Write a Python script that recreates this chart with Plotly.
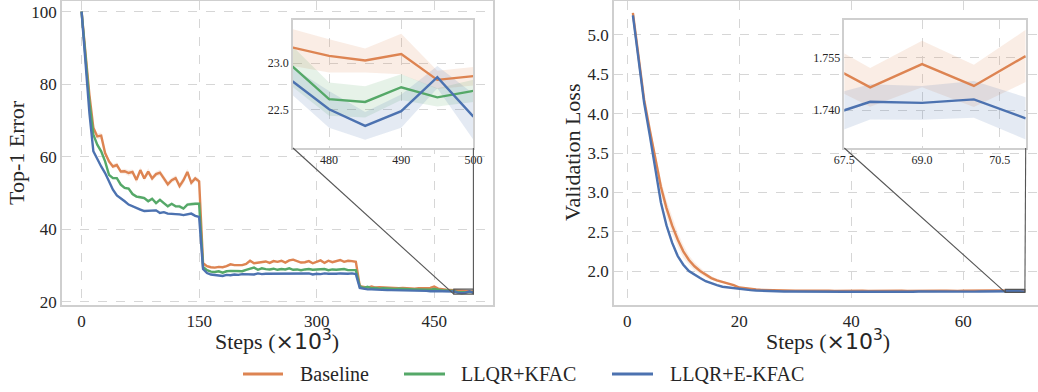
import plotly.graph_objects as go

W, H = 1038, 392

# ---------------- data: left panel (Top-1 error) ----------------
steps_left = list(range(0, 505, 5))
baseline_err = [100, 88, 77, 68, 65.6, 65.8, 61.0, 58.7, 57.3, 57.7, 55.9, 56.0, 55.5, 55.8, 53.6, 56.3,
                54.0, 55.9, 54.0, 55.2, 55.6, 54.0, 52.4, 53.5, 54.1, 51.9, 53.5, 55.8, 52.8, 54.0, 53.2,
                30.6, 29.8, 29.5, 29.4, 29.6, 29.5, 29.8, 30.3, 30.1, 30.0, 30.1, 30.4, 31.3, 30.6, 30.8,
                30.9, 31.1, 30.7, 31.2, 31.0, 31.3, 30.8, 31.4, 31.6, 31.2, 30.8, 30.9, 31.2, 30.6, 31.1,
                31.4, 30.7, 31.3, 30.9, 31.2, 31.5, 31.0, 31.3, 31.2, 31.0,
                24.3, 24.0, 23.9, 24.2, 23.9, 24.0, 23.9, 23.8, 23.9, 23.8, 23.7, 23.8, 23.7, 23.8, 23.6,
                23.7, 23.6, 23.7, 23.8, 24.2, 23.6, 23.4, 23.3, 23.25,
                23.17, 23.08, 23.03, 23.10, 22.82, 22.86]
kfac_err = [100, 87, 75, 66.1, 63.3, 61.5, 58.7, 55.0, 54.1, 54.1, 52.3, 51.4, 51.2, 49.7, 49.0, 48.8,
            48.6, 47.7, 48.4, 47.2, 48.1, 47.2, 46.3, 47.0, 46.3, 46.3, 45.7, 46.8, 47.0, 47.0, 47.0,
            29.6, 28.7, 28.3, 28.2, 28.4, 28.0, 28.4, 28.5, 28.5, 28.6, 28.4, 28.8, 29.1, 29.4, 28.8,
            29.2, 29.0, 28.9, 29.1, 28.8, 29.0, 28.9, 29.2, 28.8, 28.9, 28.7, 28.9, 29.0, 28.8, 28.9,
            28.9, 29.0, 28.7, 28.9, 28.8, 28.8, 29.0, 28.7, 28.8, 28.7,
            24.2, 23.8, 24.1, 23.7, 23.8, 23.6, 23.7, 23.6, 23.6, 23.5, 23.6, 23.5, 23.4, 23.5, 23.4,
            23.4, 23.3, 23.4, 23.3, 23.5, 23.2, 23.1, 23.1, 23.0,
            22.96, 22.61, 22.58, 22.74, 22.63, 22.70]
ekfac_err = [100, 86, 72, 61.5, 59.2, 57.3, 55.5, 53.2, 50.9, 49.3, 48.6, 47.7, 46.8, 46.3, 45.7, 45.4,
             45.0, 45.0, 45.0, 45.2, 44.5, 44.7, 44.3, 44.3, 44.1, 44.1, 43.9, 44.1, 44.3, 43.7, 43.4,
             29.0, 27.9, 27.5, 27.4, 27.4, 27.1, 27.4, 27.3, 27.5, 27.4, 27.6, 27.6, 27.7, 27.5, 27.8,
             27.6, 27.7, 27.7, 27.6, 27.8, 27.7, 27.8, 27.6, 27.7, 27.8, 27.6, 27.7, 27.8, 27.5, 27.7,
             27.6, 27.8, 27.7, 27.6, 27.7, 27.8, 27.7, 27.7, 27.8, 27.6,
             23.8, 23.5, 23.4, 23.4, 23.3, 23.3, 23.3, 23.2, 23.2, 23.2, 23.1, 23.1, 23.1, 23.0, 23.1,
             23.0, 23.0, 23.0, 22.9, 23.0, 22.9, 22.9, 22.85, 22.85,
             22.80, 22.50, 22.32, 22.48, 22.85, 22.42]
baseline_err_std = [0.0, 0.6, 0.7, 0.8, 0.8, 0.9, 0.8, 0.7, 0.6, 0.7, 0.6, 0.7, 0.8, 0.7, 0.9, 0.8,
                    0.7, 0.9, 0.8, 0.7, 0.8, 0.9, 0.8, 0.7, 0.8, 0.9, 1.0, 0.9, 0.8, 0.7, 0.8,
                    0.4, 0.35, 0.3, 0.3, 0.35, 0.3, 0.3, 0.35, 0.3, 0.3, 0.35, 0.3, 0.4, 0.3, 0.3,
                    0.35, 0.3, 0.3, 0.35, 0.3, 0.3, 0.35, 0.3, 0.4, 0.3, 0.3, 0.35, 0.3, 0.3, 0.35,
                    0.3, 0.3, 0.35, 0.3, 0.3, 0.35, 0.3, 0.3, 0.35, 0.3,
                    0.25, 0.2, 0.2, 0.25, 0.2, 0.2, 0.2, 0.2, 0.2, 0.2, 0.2, 0.2, 0.2, 0.2, 0.2,
                    0.2, 0.2, 0.2, 0.2, 0.25, 0.2, 0.2, 0.2, 0.2,
                    0.20, 0.18, 0.13, 0.22, 0.10, 0.10]
kfac_err_std = [0.0, 0.5, 0.5, 0.5, 0.4, 0.5, 0.4, 0.5, 0.4, 0.4, 0.5, 0.4, 0.4, 0.5, 0.4, 0.4,
                0.5, 0.4, 0.4, 0.5, 0.4, 0.4, 0.5, 0.4, 0.4, 0.5, 0.4, 0.4, 0.5, 0.4, 0.4,
                0.3, 0.25, 0.25, 0.25, 0.25, 0.25, 0.25, 0.25, 0.25, 0.25, 0.25, 0.25, 0.25, 0.25, 0.25,
                0.25, 0.25, 0.25, 0.25, 0.25, 0.25, 0.25, 0.25, 0.25, 0.25, 0.25, 0.25, 0.25, 0.25, 0.25,
                0.25, 0.25, 0.25, 0.25, 0.25, 0.25, 0.25, 0.25, 0.25, 0.25,
                0.2, 0.15, 0.15, 0.15, 0.15, 0.15, 0.15, 0.15, 0.15, 0.15, 0.15, 0.15, 0.15, 0.15, 0.15,
                0.15, 0.15, 0.15, 0.15, 0.15, 0.15, 0.15, 0.15, 0.15,
                0.22, 0.18, 0.17, 0.14, 0.10, 0.12]
ekfac_err_std = [0.0, 0.4, 0.4, 0.3, 0.3, 0.4, 0.3, 0.3, 0.4, 0.3, 0.3, 0.4, 0.3, 0.3, 0.3, 0.4,
                 0.3, 0.3, 0.3, 0.4, 0.3, 0.3, 0.3, 0.4, 0.3, 0.3, 0.3, 0.4, 0.3, 0.3, 0.3,
                 0.25, 0.2, 0.2, 0.2, 0.2, 0.2, 0.2, 0.2, 0.2, 0.2, 0.2, 0.2, 0.2, 0.2, 0.2,
                 0.2, 0.2, 0.2, 0.2, 0.2, 0.2, 0.2, 0.2, 0.2, 0.2, 0.2, 0.2, 0.2, 0.2, 0.2,
                 0.2, 0.2, 0.2, 0.2, 0.2, 0.2, 0.2, 0.2, 0.2, 0.2,
                 0.2, 0.15, 0.15, 0.15, 0.15, 0.15, 0.15, 0.15, 0.15, 0.15, 0.15, 0.15, 0.15, 0.15, 0.15,
                 0.15, 0.15, 0.15, 0.15, 0.15, 0.15, 0.15, 0.15, 0.15,
                 0.15, 0.20, 0.15, 0.18, 0.12, 0.25]

# ---------------- data: right panel (validation loss) ----------------
steps_right = list(range(1, 72))
baseline_loss = [5.28, 4.73, 4.18, 3.80, 3.43, 3.07, 2.80, 2.58, 2.40, 2.25, 2.14, 2.06, 2.00, 1.95, 1.91,
                 1.88, 1.86, 1.84, 1.82, 1.79, 1.78, 1.772, 1.765, 1.760, 1.757, 1.755, 1.753, 1.752,
                 1.751, 1.750, 1.749, 1.750, 1.752, 1.748, 1.747, 1.749, 1.746, 1.748, 1.747, 1.748,
                 1.746, 1.749, 1.745, 1.747, 1.748, 1.746, 1.748, 1.747, 1.749, 1.746, 1.748, 1.750,
                 1.747, 1.749, 1.748, 1.750, 1.749, 1.753, 1.748, 1.750, 1.749, 1.751, 1.750, 1.752,
                 1.751, 1.753, 1.7543, 1.7465, 1.7531, 1.7469, 1.7554]
ekfac_loss = [5.25, 4.70, 4.14, 3.73, 3.28, 2.87, 2.58, 2.36, 2.19, 2.08, 2.00, 1.95, 1.91, 1.87, 1.84,
              1.82, 1.80, 1.79, 1.78, 1.77, 1.763, 1.757, 1.752, 1.748, 1.745, 1.743, 1.741, 1.740,
              1.739, 1.738, 1.739, 1.738, 1.737, 1.738, 1.736, 1.737, 1.738, 1.737, 1.736, 1.738,
              1.737, 1.736, 1.735, 1.737, 1.738, 1.737, 1.736, 1.738, 1.737, 1.738, 1.737, 1.739,
              1.738, 1.737, 1.739, 1.738, 1.740, 1.739, 1.738, 1.740, 1.739, 1.738, 1.740, 1.739,
              1.740, 1.739, 1.7376, 1.7424, 1.7421, 1.7431, 1.7377]
baseline_loss_std = [0.02, 0.03, 0.04, 0.05,
                     0.07, 0.09, 0.10, 0.10, 0.09, 0.08, 0.06, 0.05,
                     0.04, 0.03, 0.025, 0.02, 0.015, 0.012, 0.010, 0.010,
                     0.008, 0.008, 0.007, 0.007, 0.007, 0.006, 0.006, 0.006, 0.006, 0.006, 0.006, 0.006,
                     0.006, 0.006, 0.006, 0.006, 0.006, 0.006, 0.006, 0.006, 0.006, 0.006, 0.006, 0.006,
                     0.006, 0.006, 0.006, 0.006, 0.006, 0.006, 0.006, 0.006, 0.006, 0.006, 0.006, 0.006,
                     0.006, 0.006, 0.006, 0.006, 0.006, 0.006, 0.006, 0.006, 0.006, 0.006,
                     0.0060, 0.0055, 0.0066, 0.0060, 0.0074]
ekfac_loss_std = [0.02, 0.02, 0.02, 0.02,
                  0.03, 0.035, 0.04, 0.035, 0.03, 0.025, 0.02, 0.018,
                  0.015, 0.012, 0.01, 0.009, 0.008, 0.007, 0.007, 0.006,
                  0.006, 0.006, 0.006, 0.006, 0.006, 0.006, 0.006, 0.006, 0.006, 0.006, 0.006, 0.006,
                  0.006, 0.006, 0.006, 0.006, 0.006, 0.006, 0.006, 0.006, 0.006, 0.006, 0.006, 0.006,
                  0.006, 0.006, 0.006, 0.006, 0.006, 0.006, 0.006, 0.006, 0.006, 0.006, 0.006, 0.006,
                  0.006, 0.006, 0.006, 0.006, 0.006, 0.006, 0.006, 0.006, 0.006, 0.006,
                  0.0058, 0.0050, 0.0048, 0.0052, 0.0060]

# ---------------- ticks / ranges ----------------
left_xticks = [0, 150, 300, 450]
left_yticks = [20, 40, 60, 80, 100]
right_xticks = [0, 20, 40, 60]
right_yticks = [2.0, 2.5, 3.0, 3.5, 4.0, 4.5, 5.0]
inset_l_xticks = [480, 490, 500]
inset_l_yticks = [22.5, 23.0]
inset_r_xticks = [67.5, 69.0, 70.5]
inset_r_yticks = [1.740, 1.755]

L_XR, L_YR = [-25, 525], [19.09, 102.95]
R_XR, R_YR = [-2.375, 73.34], [1.568, 5.432]
IL_XR, IL_YR = [475, 500], [22.08, 23.47]
IR_XR, IR_YR = [67.5, 71.0], [1.7293, 1.7656]

names = ["Baseline", "LLQR+KFAC", "LLQR+E-KFAC"]
colors = ["#DD8452", "#55A868", "#4C72B0"]
fills = ["rgba(221,132,82,0.15)", "rgba(85,168,104,0.15)", "rgba(76,114,176,0.15)"]
# legend layout (pixels): line start, line end, text start
legend_px = [(243, 283, 298), (404, 445, 459), (612, 653, 668)]
LEGEND_Y = 374


def px_x(p):
    return p / W


def px_y(p):
    return 1 - p / H


DOM = {
    "L": ([px_x(62), px_x(493)], [px_y(305), px_y(1)]),
    "R": ([px_x(614), 1.0], [px_y(305), px_y(1)]),
    "IL": ([px_x(293), px_x(473.4)], [px_y(148), px_y(20)]),
    "IR": ([px_x(844.3), px_x(1025.7)], [px_y(148), px_y(20)]),
}

fig = go.Figure()


def add_band(x, y, s, ci, xa, ya):
    up = [a + b for a, b in zip(y, s)]
    lo = [a - b for a, b in zip(y, s)]
    fig.add_trace(go.Scatter(x=x + x[::-1], y=up + lo[::-1], fill="toself", fillcolor=fills[ci],
                             line=dict(width=0), mode="lines", hoverinfo="skip", showlegend=False,
                             xaxis=xa, yaxis=ya))


def add_line(x, y, ci, xa, ya):
    fig.add_trace(go.Scatter(x=x, y=y, mode="lines", name=names[ci],
                             line=dict(color=colors[ci], width=2.4), showlegend=False,
                             xaxis=xa, yaxis=ya))


left_data = [(baseline_err, baseline_err_std), (kfac_err, kfac_err_std), (ekfac_err, ekfac_err_std)]
right_data = [(0, baseline_loss, baseline_loss_std), (2, ekfac_loss, ekfac_loss_std)]

for xa, ya in [("x", "y"), ("x3", "y3")]:
    for ci, (y, s) in enumerate(left_data):
        add_band(steps_left, y, s, ci, xa, ya)
    for ci, (y, s) in enumerate(left_data):
        add_line(steps_left, y, ci, xa, ya)

for xa, ya in [("x2", "y2"), ("x4", "y4")]:
    for ci, y, s in right_data:
        add_band(steps_right, y, s, ci, xa, ya)
    for ci, y, s in right_data:
        add_line(steps_right, y, ci, xa, ya)

TICKFONT = dict(family="Liberation Serif", size=17, color="#262626")
INSFONT = dict(family="Liberation Serif", size=12, color="#262626")
GRID = dict(showgrid=True, gridcolor="#d6d6d6", griddash="dash", gridwidth=1, zeroline=False,
            ticks="", ticklen=0, showline=True, linecolor="#cfcfcf", linewidth=1.5, automargin=False)


def axis(dom, rng, ticks, font, fmt=None, anchor=None, mirror=True):
    d = dict(domain=dom, range=rng, tickvals=ticks, tickfont=font, anchor=anchor, mirror=mirror, **GRID)
    if fmt:
        d["tickformat"] = fmt
    return d


fig.update_layout(
    width=W, height=H, margin=dict(l=0, r=0, t=0, b=0, autoexpand=False),
    paper_bgcolor="white", plot_bgcolor="white",
    xaxis=axis(DOM["L"][0], L_XR, left_xticks, TICKFONT, anchor="y"),
    yaxis=axis(DOM["L"][1], L_YR, left_yticks, TICKFONT, anchor="x"),
    xaxis2=axis(DOM["R"][0], R_XR, right_xticks, TICKFONT, anchor="y2"),
    yaxis2=axis(DOM["R"][1], R_YR, right_yticks, TICKFONT, fmt=".1f", anchor="x2", mirror=False),
    xaxis3=axis(DOM["IL"][0], IL_XR, inset_l_xticks, INSFONT, anchor="y3"),
    yaxis3=axis(DOM["IL"][1], IL_YR, inset_l_yticks, INSFONT, fmt=".1f", anchor="x3"),
    xaxis4=axis(DOM["IR"][0], IR_XR, inset_r_xticks, INSFONT, fmt=".1f", anchor="y4"),
    yaxis4=axis(DOM["IR"][1], IR_YR, inset_r_yticks, INSFONT, fmt=".3f", anchor="x4"),
    showlegend=False,
)


def paper_to_data(px_, py_, key, xr, yr):
    (dx0, dx1), (dy0, dy1) = DOM[key]
    x = xr[0] + (px_ - dx0) / (dx1 - dx0) * (xr[1] - xr[0])
    y = yr[0] + (py_ - dy0) / (dy1 - dy0) * (yr[1] - yr[0])
    return x, y


shapes = []
for key, ikey, xr, yr, ixr, iyr, xref, yref in [
        ("L", "IL", L_XR, L_YR, IL_XR, IL_YR, "x", "y"),
        ("R", "IR", R_XR, R_YR, IR_XR, IR_YR, "x2", "y2")]:
    shapes.append(dict(type="rect", xref=xref, yref=yref, x0=ixr[0], x1=ixr[1], y0=iyr[0], y1=iyr[1],
                       line=dict(color="#555555", width=1.2), layer="above"))
    (ix0, ix1), (iy0, iy1) = DOM[ikey]
    for cx, tx in [(ix0, ixr[0]), (ix1, ixr[1])]:
        sx, sy = paper_to_data(cx, iy0, key, xr, yr)
        shapes.append(dict(type="line", xref=xref, yref=yref, x0=sx, y0=sy, x1=tx, y1=iyr[0],
                           line=dict(color="#555555", width=1.1), layer="above"))

# legend (drawn manually for exact spacing)
LEGFONT = dict(family="Liberation Serif", size=20, color="#262626")
anns = []
for ci, (l0, l1, t0) in enumerate(legend_px):
    shapes.append(dict(type="line", xref="paper", yref="paper", x0=px_x(l0), x1=px_x(l1),
                       y0=px_y(LEGEND_Y), y1=px_y(LEGEND_Y), line=dict(color=colors[ci], width=3)))
    anns.append(dict(text=names[ci], x=px_x(t0), y=px_y(LEGEND_Y), xanchor="left", yanchor="middle",
                     font=LEGFONT, xref="paper", yref="paper", showarrow=False))
fig.update_layout(shapes=shapes)

TITLEFONT = dict(family="Liberation Serif", size=22, color="#262626")
steps_title = "Steps (<span style=\"font-family:DejaVu Sans\">×10<sup>3</sup></span>)"
titles = [
    dict(text="Top-1 Error", x=px_x(16), y=px_y(153), textangle=-90),
    dict(text="Validation Loss", x=px_x(572), y=px_y(152), textangle=-90),
    dict(text=steps_title, x=px_x(277), y=px_y(340)),
    dict(text=steps_title, x=px_x(828), y=px_y(340)),
]
for a in titles:
    a.update(xref="paper", yref="paper", showarrow=False, font=TITLEFONT, xanchor="center", yanchor="middle")
fig.update_layout(annotations=titles + anns)

fig.write_html("out.html", config={"displayModeBar": False},
               post_script="document.body.style.margin='0';document.body.style.overflow='hidden';")
